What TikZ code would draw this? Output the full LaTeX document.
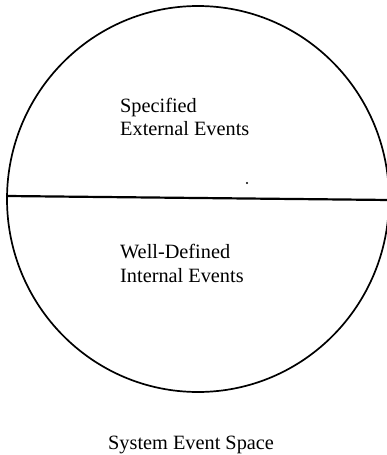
\documentclass[tikz,border=0pt]{standalone}
\usepackage{fontspec}
\setmainfont{Liberation Serif}
\begin{document}
\begin{tikzpicture}[x=1pt,y=-1pt,
  lbl/.style={anchor=base west,inner sep=0pt,font=\fontsize{20.3}{23}\selectfont},
  rim/.style={draw=black,line width=1.7pt}]
\useasboundingbox (0,0) rectangle (387,455);
\begin{scope}
\clip (0,0) rectangle (387,455);
\draw[rim] (198,199) ellipse [x radius=191, y radius=193];
\coordinate (lw) at (7,196);
\coordinate (le) at (390,200);
\draw[line width=2.2pt] (lw) -- (le);
\end{scope}
\fill (247,183) circle (1.1);
\node[lbl] (s1) at (120,112) {Specified};
\node[lbl] (s2) at (120,135) {External Events};
\node[lbl] (w1) at (120,258) {Well-Defined};
\node[lbl] (w2) at (120,282) {Internal Events};
\node[lbl] (t) at (108,449) {System Event Space};
\end{tikzpicture}
\end{document}
